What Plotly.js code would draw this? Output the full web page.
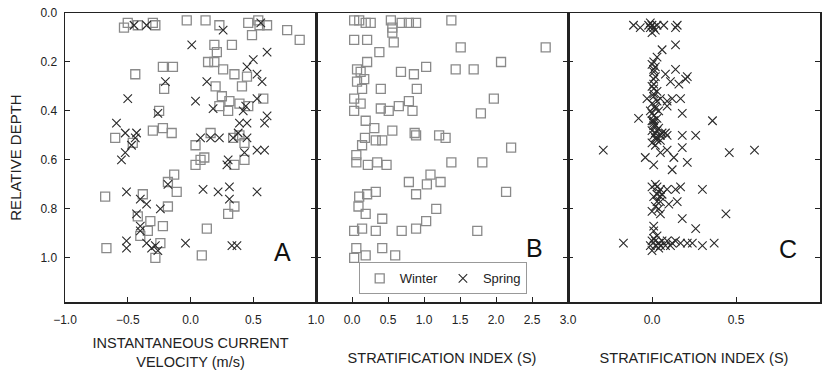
<!DOCTYPE html>
<html>
<head>
<meta charset="utf-8">
<script src="https://cdn.plot.ly/plotly-3.0.1.min.js"></script>
<style>html,body{margin:0;padding:0;background:#fff;}#chart{width:825px;height:370px;}</style>
</head>
<body>
<div id="chart"></div>
<script>
// ---- Panel A: instantaneous current velocity (m/s) vs relative depth ----
const winterA_x = [-0.53,-0.50,-0.42,-0.30,-0.28,-0.03,0.12,0.23,0.46,0.54,0.61,0.77,0.87,0.49,
  0.19,0.33,0.21,0.14,0.19,0.26,0.35,0.45,0.41,0.20,0.25,0.31,0.23,0.30,0.39,0.46,0.58,
  -0.44,-0.22,-0.14,-0.21,-0.25,-0.60,-0.46,-0.30,-0.22,-0.15,
  0.04,0.08,0.04,0.11,0.16,0.43,0.35,0.43,0.34,0.39,
  -0.13,-0.18,-0.11,-0.68,-0.38,-0.18,-0.42,-0.32,-0.22,-0.34,0.13,0.30,0.35,-0.67,-0.28,0.09,-0.40,-0.24,0.55];
const winterA_y = [0.06,0.04,0.05,0.04,0.05,0.03,0.03,0.05,0.04,0.03,0.05,0.07,0.11,0.09,
  0.13,0.13,0.16,0.20,0.20,0.23,0.25,0.26,0.30,0.30,0.34,0.36,0.38,0.40,0.37,0.38,0.35,
  0.25,0.22,0.22,0.31,0.40,0.51,0.53,0.48,0.47,0.49,
  0.54,0.60,0.62,0.59,0.49,0.53,0.62,0.60,0.51,0.50,
  0.66,0.69,0.73,0.75,0.74,0.79,0.83,0.85,0.87,0.89,0.88,0.82,0.79,0.96,1.00,0.99,0.91,0.94,0.05];
const springA_x = [0.01,0.26,0.61,0.50,0.45,0.53,0.57,0.13,-0.20,-0.50,0.04,0.18,0.39,0.45,0.53,0.61,0.59,
  -0.59,-0.52,-0.44,-0.43,-0.47,-0.52,-0.55,-0.26,0.08,0.16,0.23,0.34,0.38,0.45,0.43,0.53,0.59,0.30,0.29,
  -0.18,-0.51,-0.40,-0.35,-0.24,0.10,0.22,0.31,0.31,0.53,-0.43,-0.40,-0.51,-0.51,-0.35,-0.31,-0.26,-0.28,
  -0.04,0.33,0.37,-0.40,-0.45,-0.35,0.56,0.42,0.44];
const springA_y = [0.13,0.07,0.16,0.19,0.22,0.25,0.28,0.28,0.28,0.35,0.36,0.39,0.45,0.45,0.35,0.42,0.45,
  0.45,0.49,0.51,0.49,0.54,0.57,0.60,0.41,0.51,0.51,0.51,0.51,0.49,0.51,0.57,0.56,0.56,0.60,0.62,
  0.70,0.73,0.76,0.78,0.80,0.72,0.73,0.71,0.76,0.73,0.82,0.87,0.93,0.96,0.94,0.96,0.97,0.95,
  0.94,0.95,0.95,0.89,0.05,0.05,0.04,0.40,0.38];

// ---- Panel B: stratification index (S), winter ----
const winterB_x = [0.03,0.10,0.19,0.26,0.54,0.69,0.79,0.89,1.38,0.56,0.56,0.03,0.21,0.58,1.51,2.69,0.38,0.21,2.07,1.44,1.69,1.03,0.86,0.68,
  0.07,0.12,0.17,0.07,0.14,0.40,0.90,0.03,0.12,0.40,0.51,0.65,0.79,0.84,1.97,1.79,0.03,0.19,0.31,0.56,0.87,0.89,1.21,1.30,
  0.18,0.14,0.33,0.42,2.21,0.06,0.06,0.22,0.35,0.48,1.38,1.81,0.79,0.89,1.04,1.09,1.23,2.14,0.10,0.21,0.33,
  0.09,0.19,0.42,1.17,1.03,0.89,0.69,0.33,0.03,0.14,1.74,0.06,0.03,0.19,0.42,0.60];
const winterB_y = [0.03,0.03,0.04,0.04,0.03,0.04,0.04,0.04,0.03,0.06,0.08,0.11,0.11,0.12,0.14,0.14,0.16,0.20,0.20,0.23,0.23,0.22,0.25,0.24,
  0.23,0.24,0.27,0.28,0.31,0.31,0.31,0.35,0.37,0.39,0.40,0.38,0.36,0.40,0.35,0.41,0.40,0.44,0.47,0.48,0.49,0.50,0.50,0.51,
  0.51,0.54,0.52,0.52,0.55,0.58,0.61,0.62,0.61,0.62,0.61,0.61,0.69,0.74,0.70,0.66,0.69,0.73,0.75,0.74,0.73,
  0.79,0.82,0.84,0.80,0.85,0.88,0.89,0.89,0.89,0.88,0.89,0.96,1.00,0.99,0.96,0.99];

// ---- Panel C: stratification index (S), spring ----
const springC_x = [-0.11,-0.07,-0.01,0.01,0.00,0.03,0.07,0.15,0.14,-0.01,0.00,0.02,-0.02,
  0.14,0.06,0.03,0.01,0.02,0.01,0.14,0.08,0.11,0.16,0.21,0.20,0.01,0.01,0.01,
  -0.03,0.01,0.05,0.09,0.12,0.17,0.03,0.09,-0.01,0.01,-0.08,0.18,0.36,0.01,0.02,0.00,0.01,0.05,0.09,0.03,0.02,
  0.18,0.26,0.18,-0.29,0.05,0.09,0.13,0.46,0.61,-0.04,0.01,0.12,0.21,
  0.00,0.02,0.00,0.03,0.01,0.04,0.02,0.06,0.08,0.03,0.00,
  0.03,0.04,0.05,0.09,0.14,0.17,0.30,0.05,0.10,0.15,0.00,0.04,0.05,0.18,0.44,0.01,0.01,0.26,
  0.02,0.05,0.03,0.06,
  -0.17,-0.01,0.02,0.04,0.05,0.09,0.11,0.14,0.17,0.21,0.24,0.30,0.37,0.03,0.00,0.02,0.06,0.08,0.12,
  0.00,0.01,0.02,0.00,0.03,0.01,0.02,0.04,0.00,0.01,0.03,0.05,0.02,0.00,0.01,0.03,0.02,0.01,0.04,0.00];
const springC_y = [0.05,0.06,0.04,0.06,0.08,0.05,0.05,0.05,0.06,0.06,0.05,0.07,0.05,
  0.13,0.15,0.18,0.20,0.22,0.23,0.23,0.25,0.28,0.29,0.26,0.27,0.27,0.29,0.31,
  0.35,0.34,0.35,0.36,0.35,0.35,0.36,0.38,0.40,0.42,0.43,0.41,0.44,0.44,0.46,0.48,0.50,0.50,0.50,0.52,0.54,
  0.50,0.50,0.55,0.56,0.57,0.56,0.59,0.57,0.56,0.59,0.62,0.64,0.61,
  0.37,0.39,0.41,0.43,0.45,0.47,0.49,0.49,0.49,0.51,0.53,
  0.71,0.73,0.75,0.72,0.72,0.71,0.72,0.77,0.78,0.77,0.81,0.80,0.82,0.84,0.82,0.87,0.89,0.88,
  0.70,0.72,0.74,0.74,
  0.94,0.95,0.93,0.94,0.95,0.93,0.95,0.93,0.94,0.94,0.94,0.95,0.94,0.91,0.93,0.95,0.93,0.95,0.94,
  0.21,0.24,0.26,0.30,0.32,0.33,0.38,0.40,0.44,0.46,0.48,0.52,0.51,0.71,0.75,0.77,0.79,0.92,0.96,0.97];

// ---- Axis ticks / labels ----
const depthTicks = [0, 0.2, 0.4, 0.6, 0.8, 1.0];
const velocityTicks = [-1.0, -0.5, 0.0, 0.5, 1.0];
const stratBTicks = [0.0, 0.5, 1.0, 1.5, 2.0, 2.5, 3.0];
const stratCTicks = [0.0, 0.5, 1.0];
const panelLetters = ['A', 'B', 'C'];
const seriesNames = ['Winter', 'Spring'];
const yTitle = 'RELATIVE DEPTH';
const xTitles = ['INSTANTANEOUS CURRENT<br>VELOCITY (m/s)', 'STRATIFICATION INDEX (S)', 'STRATIFICATION INDEX (S)'];

const winterMarker = {symbol: 'square-open', size: 9, color: '#8a8a8a', line: {width: 1.3, color: '#8a8a8a'}};
const springMarker = {symbol: 'x-thin-open', size: 8.5, color: '#2a2a2a', line: {width: 1.1, color: '#2a2a2a'}};

const traces = [
  {x: winterA_x, y: winterA_y, xaxis: 'x', yaxis: 'y', mode: 'markers', type: 'scatter', name: seriesNames[0], showlegend: false, marker: winterMarker},
  {x: springA_x, y: springA_y, xaxis: 'x', yaxis: 'y', mode: 'markers', type: 'scatter', name: seriesNames[1], showlegend: false, marker: springMarker},
  {x: winterB_x, y: winterB_y, xaxis: 'x2', yaxis: 'y2', mode: 'markers', type: 'scatter', name: seriesNames[0], showlegend: true, marker: winterMarker},
  {x: springC_x, y: springC_y, xaxis: 'x3', yaxis: 'y3', mode: 'markers', type: 'scatter', name: seriesNames[1], showlegend: true, marker: springMarker}
];

const font = {family: 'Liberation Sans, Arial, sans-serif', size: 12, color: '#222'};
const d1 = 251/755, d2 = 503/755;

function xax(domain, range, ticks, title, standoff) {
  return {domain: domain, range: range, tickvals: ticks, tickformat: '.1f',
    ticks: 'inside', ticklen: 5, tickcolor: '#222', showline: true, linecolor: '#222', linewidth: 1.5,
    mirror: true, showgrid: false, zeroline: false, ticklabelstandoff: 6,
    tickfont: {family: font.family, size: 12, color: '#222'},
    title: {text: title, standoff: standoff, font: {family: font.family, size: 14.5, color: '#222'}}};
}
function yax(anchor, showLabels) {
  return {anchor: anchor, range: [1.18, 0], tickvals: depthTicks, tickformat: '.1f',
    ticks: 'inside', ticklen: 5, tickcolor: '#222', showline: true, linecolor: '#222', linewidth: 1.5,
    mirror: 'ticks', showgrid: false, zeroline: false, showticklabels: showLabels, ticklabelstandoff: 4,
    tickfont: {family: font.family, size: 12, color: '#222'},
    title: showLabels ? {text: yTitle, standoff: 15, font: {family: font.family, size: 15, color: '#222'}} : {text: ''}};
}

const layout = {
  width: 825, height: 370,
  margin: {l: 65, r: 5, t: 13, b: 68},
  paper_bgcolor: '#fff', plot_bgcolor: '#fff',
  font: font,
  xaxis: xax([0, d1], [-1, 1], velocityTicks, xTitles[0], 20),
  xaxis2: Object.assign(xax([d1, d2], [-0.5, 3.0], stratBTicks, xTitles[1], 27), {anchor: 'y2'}),
  xaxis3: Object.assign(xax([d2, 1], [-0.5, 1.0], stratCTicks, xTitles[2], 27), {anchor: 'y3'}),
  yaxis: yax('x', true),
  yaxis2: yax('x2', false),
  yaxis3: yax('x3', false),
  showlegend: true,
  legend: {orientation: 'h', x: 0.389, y: 0.137, xanchor: 'left', yanchor: 'top',
    bordercolor: '#999', borderwidth: 1, bgcolor: '#fff',
    font: {family: font.family, size: 13, color: '#222'}},
  annotations: [
    {xref: 'x', yref: 'y', x: 0.73, y: 0.975, text: panelLetters[0], showarrow: false, font: {family: font.family, size: 25, color: '#111'}},
    {xref: 'x2', yref: 'y2', x: 2.53, y: 0.96, text: panelLetters[1], showarrow: false, font: {family: font.family, size: 25, color: '#111'}},
    {xref: 'x3', yref: 'y3', x: 0.81, y: 0.965, text: panelLetters[2], showarrow: false, font: {family: font.family, size: 25, color: '#111'}}
  ]
};

Plotly.newPlot('chart', traces, layout, {displayModeBar: false, staticPlot: true});
</script>
</body>
</html>
